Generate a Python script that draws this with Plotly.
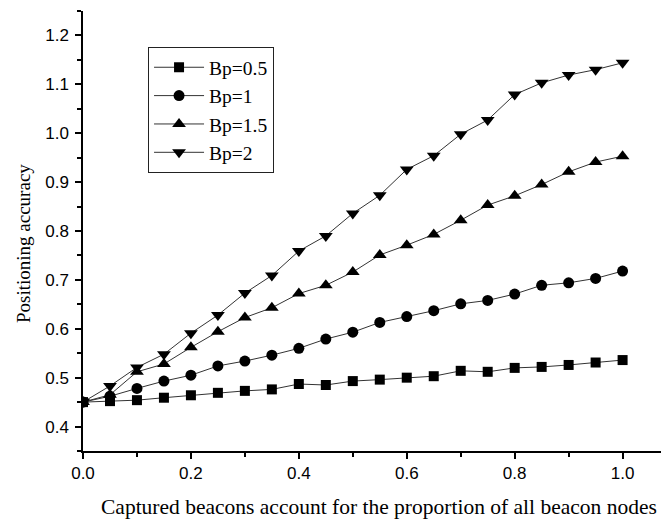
import plotly.graph_objects as go

x_vals = [0.0, 0.05, 0.1, 0.15, 0.2, 0.25, 0.3, 0.35, 0.4, 0.45, 0.5,
          0.55, 0.6, 0.65, 0.7, 0.75, 0.8, 0.85, 0.9, 0.95, 1.0]

bp_05 = [0.450, 0.452, 0.454, 0.459, 0.464, 0.469, 0.473, 0.476, 0.487, 0.485, 0.493,
         0.496, 0.500, 0.503, 0.514, 0.512, 0.520, 0.522, 0.526, 0.531, 0.536]
bp_1 = [0.450, 0.462, 0.478, 0.493, 0.505, 0.524, 0.534, 0.546, 0.560, 0.579, 0.593,
        0.613, 0.625, 0.637, 0.651, 0.658, 0.671, 0.689, 0.694, 0.703, 0.718]
bp_15 = [0.450, 0.465, 0.512, 0.528, 0.562, 0.594, 0.623, 0.643, 0.672, 0.689, 0.716,
         0.751, 0.771, 0.793, 0.822, 0.853, 0.872, 0.895, 0.921, 0.941, 0.953]
bp_2 = [0.450, 0.483, 0.521, 0.548, 0.591, 0.628, 0.673, 0.709, 0.759, 0.790, 0.836,
        0.873, 0.926, 0.954, 0.998, 1.027, 1.079, 1.103, 1.119, 1.130, 1.144]

series_names = ["Bp=0.5", "Bp=1", "Bp=1.5", "Bp=2"]
series_values = [bp_05, bp_1, bp_15, bp_2]
symbols = ["square", "circle", "triangle-up", "triangle-down"]
sizes = [10, 11, 12, 12]

x_ticks = [0.0, 0.2, 0.4, 0.6, 0.8, 1.0]
y_ticks = [0.4, 0.5, 0.6, 0.7, 0.8, 0.9, 1.0, 1.1, 1.2]

x_title = "Captured beacons account for the proportion of all beacon nodes"
y_title = "Positioning accuracy"

SERIF = "Liberation Serif, Times New Roman, serif"
SANS = "Liberation Sans, Arial, sans-serif"

fig = go.Figure()
for name, vals, sym, sz in zip(series_names, series_values, symbols, sizes):
    fig.add_trace(go.Scatter(
        x=x_vals, y=vals, name=name, mode="lines+markers",
        line=dict(color="#333333", width=1),
        marker=dict(symbol=sym, size=sz, color="black", line=dict(width=0)),
    ))

# page body has an 8px margin, so the figure is drawn 8px right/down
fig.update_layout(
    width=661, height=513,
    margin=dict(l=75, r=0, t=3, b=70, autoexpand=False),
    paper_bgcolor="white", plot_bgcolor="white",
    showlegend=True,
    legend=dict(
        x=0.111, y=0.918, xanchor="left", yanchor="top",
        bordercolor="#222222", borderwidth=1, bgcolor="white",
        font=dict(family=SERIF, size=19.5, color="black"),
        tracegroupgap=0, itemsizing="trace", itemwidth=50,
    ),
    font=dict(family=SANS, color="black"),
    annotations=[
        dict(text=x_title, xref="paper", yref="paper", x=0.505, y=-0.127,
             xanchor="center", yanchor="middle", showarrow=False,
             font=dict(family=SERIF, size=21.5, color="black")),
        dict(text=y_title, xref="paper", yref="paper", x=-0.1024, y=0.4727,
             xanchor="center", yanchor="middle", showarrow=False, textangle=-90,
             font=dict(family=SERIF, size=19, color="black")),
    ],
)

fig.update_xaxes(
    range=[0, 1.086], tickvals=x_ticks, tickformat=".1f", automargin=False,
    showline=True, linecolor="black", linewidth=1.5,
    ticks="outside", ticklen=6, tickwidth=1.5, tickcolor="black",
    minor=dict(dtick=0.1, tick0=0, ticks="outside", ticklen=4, tickwidth=1.5, tickcolor="black"),
    showgrid=False, zeroline=False,
    tickfont=dict(family=SANS, size=17, color="black"),
)
fig.update_yaxes(
    range=[0.35, 1.25], tickvals=y_ticks, tickformat=".1f", automargin=False,
    showline=True, linecolor="black", linewidth=1.5,
    ticks="outside", ticklen=6, tickwidth=1.5, tickcolor="black",
    minor=dict(dtick=0.05, tick0=0.35, ticks="outside", ticklen=4, tickwidth=1.5, tickcolor="black"),
    showgrid=False, zeroline=False, ticklabelstandoff=3,
    tickfont=dict(family=SANS, size=17, color="black"),
)

fig.write_html("out.html")
